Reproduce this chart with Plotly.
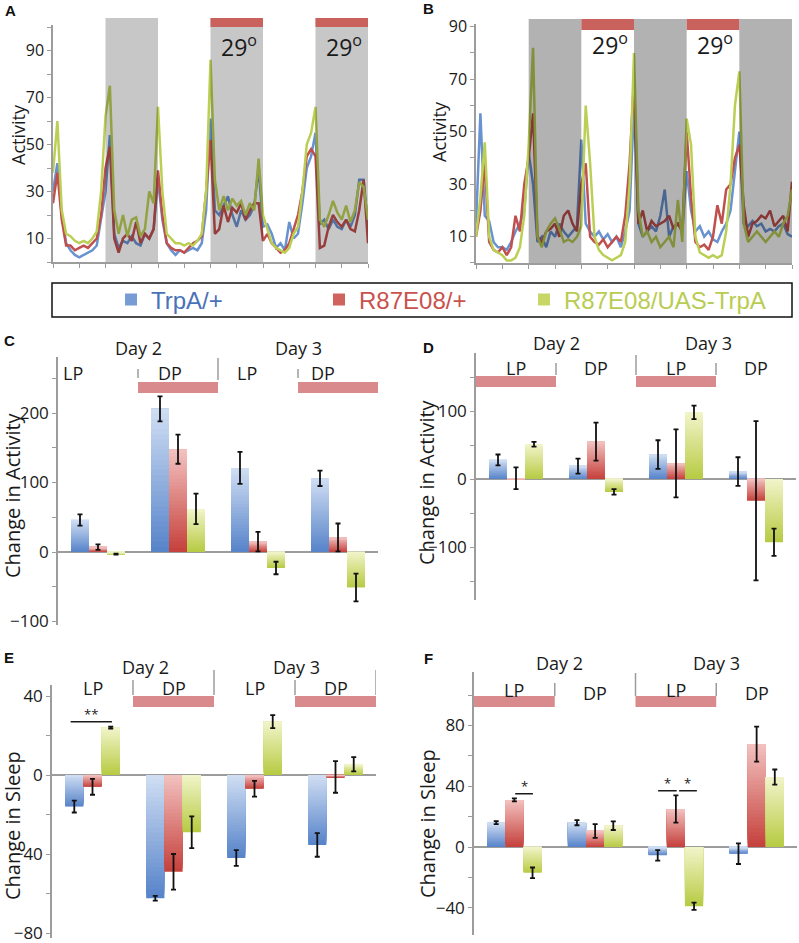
import plotly.graph_objects as go

W, H = 799, 943


def fx(p):
    # pixel column -> paper x
    return p / W


def fy(p):
    # pixel row -> paper y
    return 1 - p / H


def ydom(zero_px, scale, lo, hi):
    # y domain whose value 0 sits on pixel row zero_px, scale = px per unit
    return [fy(zero_px - lo * scale), fy(zero_px - hi * scale)]


# ---- activity traces (hourly, 3 days) ----
hours = list(range(73))

a_trpa = [30, 42, 20, 8, 5, 3, 2, 3, 4, 5, 7, 18, 30,
          54, 12, 6, 9, 8, 11, 8, 7, 12, 10, 14, 35,
          18, 8, 5, 3, 5, 4, 5, 6, 5, 8, 22, 61,
          22, 20, 24, 28, 20, 15, 22, 18, 20, 24, 40, 15,
          16, 12, 6, 8, 5, 17, 10, 12, 25, 40, 45, 55,
          16, 18, 14, 18, 15, 14, 18, 15, 20, 35, 35, 15]
a_r87 = [25, 38, 18, 7, 7, 5, 6, 7, 6, 8, 10, 20, 40,
         49, 10, 4, 10, 12, 9, 17, 8, 12, 10, 14, 39,
         20, 8, 6, 5, 5, 4, 6, 8, 9, 11, 30, 52,
         12, 14, 24, 17, 23, 21, 25, 18, 22, 25, 25, 9,
         12, 8, 6, 4, 5, 8, 14, 20, 30, 45, 48, 45,
         6, 7, 15, 20, 17, 15, 18, 14, 13, 22, 35, 8]
a_cross = [38, 60, 22, 12, 11, 9, 8, 9, 8, 10, 13, 30, 62,
           75, 22, 12, 20, 11, 18, 19, 11, 14, 30, 25, 66,
           30, 12, 10, 8, 8, 7, 8, 7, 9, 12, 30, 86,
           35, 22, 28, 22, 27, 24, 26, 20, 25, 22, 44, 20,
           14, 8, 6, 5, 4, 6, 12, 15, 30, 50, 55, 66,
           18, 15, 20, 26, 21, 18, 24, 17, 22, 34, 32, 18]

b_trpa = [15, 57, 18, 16, 8, 6, 6, 5, 8, 12, 15, 20, 42,
          30, 8, 10, 6, 12, 10, 15, 12, 10, 12, 14, 47,
          15, 12, 10, 12, 9, 11, 8, 10, 6, 12, 20, 60,
          15, 10, 12, 14, 12, 18, 28, 10, 14, 15, 12, 35,
          20, 12, 14, 10, 12, 9, 8, 12, 15, 20, 35, 50,
          15, 14, 16, 14, 15, 12, 13, 12, 14, 15, 11, 10]
b_r87 = [10, 20, 38, 8, 5, 4, 6, 3, 6, 18, 12, 30, 40,
         57, 10, 8, 12, 13, 15, 10, 18, 20, 15, 12, 30,
         38, 10, 8, 7, 9, 6, 8, 10, 8, 18, 38, 70,
         15, 20, 12, 16, 14, 15, 16, 18, 13, 15, 12, 50,
         25, 8, 6, 7, 5, 10, 22, 15, 28, 30, 40, 45,
         22, 10, 15, 16, 18, 17, 20, 14, 16, 18, 12, 31]
b_cross = [10, 25, 46, 10, 5, 4, 3, 1, 1, 2, 6, 18, 45,
           82, 10, 6, 12, 15, 17, 13, 8, 9, 8, 10, 14,
           60, 38, 10, 5, 3, 2, 1, 2, 3, 8, 30, 80,
           20, 10, 12, 8, 10, 6, 8, 10, 6, 24, 8, 55,
           45, 10, 4, 3, 2, 3, 2, 3, 12, 30, 60, 73,
           15, 8, 10, 12, 10, 8, 10, 12, 10, 15, 18, 28]

# ---- bar panels ----
periods = ["D2 LP", "D2 DP", "D3 LP", "D3 DP"]

c_trpa, c_trpa_err = [46, 206, 121, 106], [8, 18, 23, 11]
c_r87, c_r87_err = [7, 148, 15, 21], [4, 21, 14, 20]
c_cross, c_cross_err = [-3, 62, -23, -51], [0.8, 22, 9, 20]

d_trpa, d_trpa_err = [28, 19, 36, 11], [8, 11, 21, 21]
d_r87, d_r87_err = [1, 55, 23, -32], [16, 28, 50, 117]
d_cross, d_cross_err = [51, -19, 98, -93], [3.5, 4, 10, 20]

e_trpa, e_trpa_err = [-16, -62.4, -42, -35.4], [3, 1.2, 4, 6]
e_r87, e_r87_err = [-6, -49, -7, -1], [4, 9, 4, 8]
e_cross, e_cross_err = [24, -29, 27, 5.4], [0.5, 8, 3.3, 3.6]

f_trpa, f_trpa_err = [16, 16, -5.5, -4.4], [1, 1.7, 3.5, 6.8]
f_r87, f_r87_err = [31, 10.5, 25, 67.7], [1, 4.5, 9, 11.5]
f_cross, f_cross_err = [-17, 14, -39, 46], [3.5, 2.8, 2.4, 5]

genotypes = ["TrpA/+", "R87E08/+", "R87E08/UAS-TrpA"]

LINE_COLORS = ["#6892d0", "#c0504d", "#bccf55"]
# bars fade from a dark bottom to a light top
BAR_DARK = [(88, 132, 202), (198, 66, 61), (184, 203, 68)]
BAR_LIGHT = [(206, 221, 242), (242, 192, 190), (240, 244, 200)]
TEXT_COLORS = ["#4a72b8", "#c9524d", "#b9cc52"]
AXIS = "#9c9c9c"
FONT = "Open Sans, sans-serif"
HEAT = "#c9615c"
HEAT_BAR = "#d88a8d"
N_SHADES = 28


def shade(j, t):
    d, l = BAR_DARK[j], BAR_LIGHT[j]
    return "rgb(%d,%d,%d)" % tuple(round(a + (b - a) * t) for a, b in zip(d, l))


fig = go.Figure()

# activity lines
for ax, series in (("", (a_trpa, a_r87, a_cross)), ("2", (b_trpa, b_r87, b_cross))):
    for ys, col in zip(series, LINE_COLORS):
        fig.add_trace(
            go.Scatter(
                x=hours, y=ys, mode="lines",
                line=dict(color=col, width=2.5),
                xaxis="x" + ax, yaxis="y" + ax,
                showlegend=False, hoverinfo="skip",
            )
        )

bar_panels = [
    ("3", (c_trpa, c_r87, c_cross), (c_trpa_err, c_r87_err, c_cross_err)),
    ("4", (d_trpa, d_r87, d_cross), (d_trpa_err, d_r87_err, d_cross_err)),
    ("5", (e_trpa, e_r87, e_cross), (e_trpa_err, e_r87_err, e_cross_err)),
    ("6", (f_trpa, f_r87, f_cross), (f_trpa_err, f_r87_err, f_cross_err)),
]
legend_ids = ["legend", "legend2", "legend3"]
for i, (ax, vals, errs) in enumerate(bar_panels):
    for j in range(3):
        tops = [max(v, 0) for v in vals[j]]
        lengths = [abs(v) for v in vals[j]]
        # stacked-over layers, each shorter and lighter, give the vertical fade
        for k in range(N_SHADES):
            frac = (N_SHADES - k) / N_SHADES
            fig.add_trace(
                go.Bar(
                    x=periods,
                    y=[L * frac for L in lengths],
                    base=[t - L * frac for t, L in zip(tops, lengths)],
                    marker=dict(color=shade(j, k / (N_SHADES - 1)), line_width=0),
                    offsetgroup=str(j), name=genotypes[j],
                    showlegend=(i == 0 and k == N_SHADES // 4), legend=legend_ids[j],
                    xaxis="x" + ax, yaxis="y" + ax, hoverinfo="skip",
                )
            )
        fig.add_trace(
            go.Bar(
                x=periods, y=vals[j],
                error_y=dict(type="data", array=errs[j], color="#111111",
                             thickness=1.8, width=2.5),
                marker=dict(color="rgba(0,0,0,0)", line_width=0),
                offsetgroup=str(j), name=genotypes[j], showlegend=False,
                xaxis="x" + ax, yaxis="y" + ax,
            )
        )

shapes = []
annotations = []


def rect(xref, x0, x1, y0, y1, color, yref="paper"):
    shapes.append(dict(type="rect", xref=xref, yref=yref, x0=x0, x1=x1,
                       y0=y0, y1=y1, fillcolor=color, line_width=0, layer="above"))


def vline(xref, x, y0, y1):
    shapes.append(dict(type="line", xref=xref, yref="paper", x0=x, x1=x,
                       y0=fy(y0), y1=fy(y1), line=dict(color=AXIS, width=1.5)))


def text(x, y, s, size, xref="paper", yref="paper", **kw):
    d = dict(x=x, y=y, xref=xref, yref=yref, text=s, showarrow=False,
             xanchor="center", yanchor="middle",
             font=dict(family=FONT, size=size, color="#1a1a1a"))
    d.update(kw)
    annotations.append(d)


# dark periods and heat bars, panel A (dark phase heated)
for h0 in (12, 36, 60):
    rect("x", h0, h0 + 12, fy(262), fy(18), "rgba(0,0,0,0.22)")
for h0 in (36, 60):
    rect("x", h0, h0 + 12, fy(27), fy(18), HEAT)
text(42.5, fy(46), "29<sup>o</sup>", 23, xref="x")
text(66.5, fy(46), "29<sup>o</sup>", 23, xref="x")

# panel B (light phase heated)
for h0 in (12, 36, 60):
    rect("x2", h0, h0 + 12, fy(263), fy(19), "rgba(0,0,0,0.3)")
for h0 in (24, 48):
    rect("x2", h0, h0 + 12, fy(30), fy(19), HEAT)
text(30.5, fy(44), "29<sup>o</sup>", 23, xref="x2")
text(54.5, fy(44), "29<sup>o</sup>", 23, xref="x2")

# headers of the bar panels
headers = [
    ("x3", [(0.5, 348), (2.5, 348)],
     [("LP", -0.31, 373), ("DP", 0.9, 373), ("LP", 1.86, 373), ("DP", 2.81, 373)],
     [(0.5, 369, 378), (1.5, 358, 380), (2.5, 369, 378)],
     [(0.5, 1.5), (2.5, 3.5)], (382, 393)),
    ("x4", [(0.5, 343), (2.41, 343)],
     [("LP", 0, 368), ("DP", 1, 368), ("LP", 2, 368), ("DP", 3, 368)],
     [(0.5, 363, 375), (1.5, 355, 375), (2.5, 363, 375)],
     [(-0.5, 0.5), (1.5, 2.5)], (376, 387)),
    ("x5", [(0.65, 667), (2.52, 667)],
     [("LP", 0, 688), ("DP", 1, 688), ("LP", 2, 688), ("DP", 3, 688)],
     [(0.5, 680, 695), (1.5, 670, 695), (2.5, 680, 695), (3.5, 670, 695)],
     [(0.5, 1.5), (2.5, 3.5)], (696, 707)),
    ("x6", [(0.56, 663), (2.5, 663)],
     [("LP", 0, 690), ("DP", 1, 693), ("LP", 2, 690), ("DP", 3, 693)],
     [(0.5, 683, 696), (1.5, 673, 696), (2.5, 683, 696)],
     [(-0.5, 0.5), (1.5, 2.5)], (696, 707)),
]
for xref, days, labels, seps, heats, (hy0, hy1) in headers:
    for (x, y), s in zip(days, ("Day 2", "Day 3")):
        text(x, fy(y), s, 18, xref=xref)
    for s, x, y in labels:
        text(x, fy(y), s, 18, xref=xref)
    for x, y0, y1 in seps:
        vline(xref, x, y0, y1)
    for x0, x1 in heats:
        rect(xref, x0, x1, fy(hy1), fy(hy0), HEAT_BAR)

# significance marks
sig = [("x5", "y5", -0.27, 0.24, 27, "**"),
       ("x6", "y6", 0.01, 0.23, 35, "*"),
       ("x6", "y6", 1.78, 2.01, 37, "*"),
       ("x6", "y6", 2.04, 2.26, 37, "*")]
for xref, yref, x0, x1, y, s in sig:
    shapes.append(dict(type="line", xref=xref, yref=yref, x0=x0, x1=x1, y0=y, y1=y,
                       line=dict(color="#1a1a1a", width=1.5)))
    text((x0 + x1) / 2, y, s, 13, xref=xref, yref=yref, yanchor="bottom", yshift=-3)

# legend frame
shapes.append(dict(type="rect", xref="paper", yref="paper", x0=fx(52), x1=fx(792),
                   y0=fy(317), y1=fy(283), line=dict(color="#111111", width=1.5)))

# panel letters
for s, x, y in (("A", 10, 10), ("B", 429, 8), ("C", 9, 340),
                ("D", 429, 347), ("E", 9, 657), ("F", 428, 658)):
    annotations.append(dict(x=fx(x), y=fy(y), xref="paper", yref="paper", text="<b>%s</b>" % s,
                            showarrow=False, xanchor="center", yanchor="middle",
                            font=dict(family="Liberation Sans, Arial", size=15,
                                      color="#111111")))

# y titles
for s, x, y, size in (("Activity", 18, 135, 18), ("Activity", 439, 132, 18),
                      ("Change in Activity", 12, 495, 20), ("Change in Activity", 427, 482, 20),
                      ("Change in Sleep", 12, 826, 20), ("Change in Sleep", 427, 824, 20)):
    text(fx(x), fy(y), s, size, textangle=-90)


line_axis = dict(showline=True, linecolor=AXIS, linewidth=1.5, showgrid=False,
                 zeroline=False, ticks="outside", ticklen=4, tickcolor=AXIS, tickwidth=1.2,
                 automargin=False, ticklabeloverflow="allow")


def minor(vals):
    return dict(tickmode="array", tickvals=vals, ticks="outside", ticklen=4,
                tickcolor=AXIS, tickwidth=1.2, showgrid=False)


layout_axes = {}
for ax, dom, zero, scale, top in (("", (53, 368), 262, 2.35, 101),
                                  ("2", (476, 792), 263, 2.625, 91)):
    layout_axes["xaxis" + ax] = dict(line_axis, domain=[fx(dom[0]), fx(dom[1])], range=[0, 72],
                                     tickmode="array", tickvals=list(range(0, 73, 6)),
                                     showticklabels=False, anchor="y" + ax)
    layout_axes["yaxis" + ax] = dict(line_axis, domain=ydom(zero, scale, 0, top), range=[0, top],
                                     tickmode="array", tickvals=[10, 30, 50, 70, 90],
                                     minor=minor([0, 20, 40, 60, 80, 100]),
                                     tickfont=dict(family=FONT, size=16, color="#1a1a1a"),
                                     anchor="x" + ax)

for ax, dom, zero, scale, lo, hi, major, minor_vals in (
        ("3", (58, 378), 552, 0.695, -105, 280, [-100, 0, 100, 200], [-50, 50, 150, 250]),
        ("4", (476, 796), 479, 0.68, -178, 185, [-100, 0, 100], [-150, -50, 50, 150]),
        ("5", (52, 376), 775, 1.975, -82.5, 45.6, [-80, -40, 0, 40], [-60, -20, 20]),
        ("6", (474, 797), 847, 1.52, -58, 115, [-40, 0, 40, 80], [-20, 20, 60, 100])):
    layout_axes["xaxis" + ax] = dict(domain=[fx(dom[0]), fx(dom[1])], type="category",
                                     range=[-0.5, 3.5], showline=False, showgrid=False,
                                     showticklabels=False, ticks="", zeroline=False,
                                     automargin=False, anchor="y" + ax)
    layout_axes["yaxis" + ax] = dict(line_axis, domain=ydom(zero, scale, lo, hi), range=[lo, hi],
                                     tickmode="array", tickvals=major, minor=minor(minor_vals),
                                     zeroline=True, zerolinecolor=AXIS, zerolinewidth=1.5,
                                     tickfont=dict(family=FONT, size=17, color="#1a1a1a"),
                                     anchor="x" + ax)

legends = {}
for lid, x, col in zip(legend_ids, (111, 319, 524), TEXT_COLORS):
    legends[lid] = dict(x=fx(x), y=fy(300), xanchor="left", yanchor="middle",
                        font=dict(family="Liberation Sans, Arial", size=24, color=col),
                        bgcolor="rgba(0,0,0,0)", itemclick=False, itemdoubleclick=False)

fig.update_layout(
    width=W, height=H,
    margin=dict(l=0, r=0, t=0, b=0, autoexpand=False),
    paper_bgcolor="white", plot_bgcolor="white",
    barmode="group", bargap=0.325, bargroupgap=0,
    showlegend=True,
    shapes=shapes, annotations=annotations,
    **legends,
    **layout_axes,
)

# the page body has a default 8px margin; drop it so the figure fills the window
fig.write_html("out.html", config={"displayModeBar": False},
               post_script="document.body.style.margin='0';")
